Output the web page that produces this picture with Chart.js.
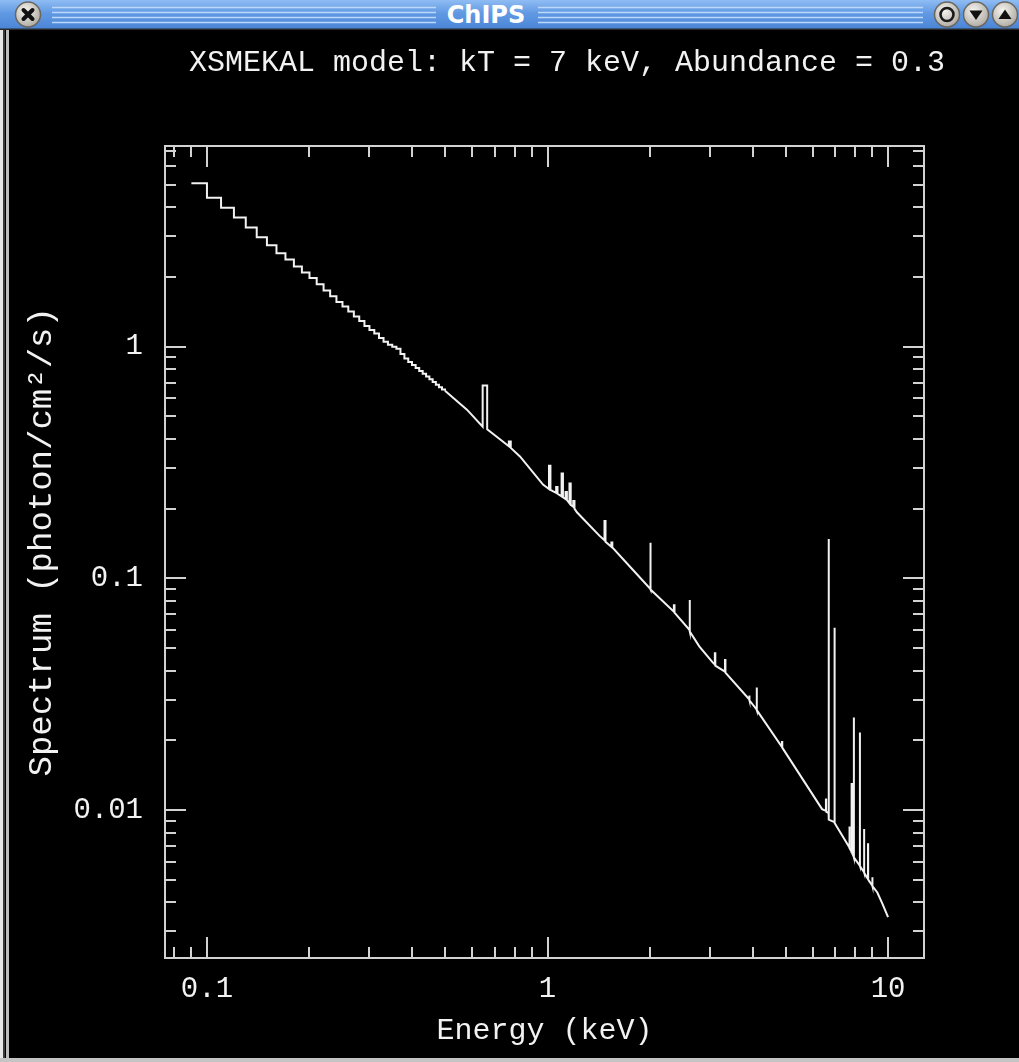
<!DOCTYPE html>
<html>
<head>
<meta charset="utf-8">
<script src="https://cdn.jsdelivr.net/npm/chart.js@4.4.1/dist/chart.umd.min.js"></script>
<style>
html,body{margin:0;padding:0;background:#000;}
#wrap{position:relative;width:1019px;height:1062px;overflow:hidden;background:#000;}
#bar{position:absolute;left:0;top:0;}
#chart{position:absolute;left:0;top:42px;}
#lb1{position:absolute;left:0;top:30px;width:3px;height:1032px;background:#e6e6e6;}
#lb2{position:absolute;left:3px;top:30px;width:2px;height:1032px;background:#3a3a3a;}
#lb3{position:absolute;left:6px;top:30px;width:3px;height:1032px;background:#bcbcbc;}
#bb{position:absolute;left:0;top:1058px;width:1019px;height:4px;background:#c4c4c4;}
</style>
</head>
<body>
<div id="wrap">
<canvas id="chart" width="1019" height="1020"></canvas>
<svg id="bar" width="1019" height="30" viewBox="0 0 1019 30">
  <defs>
    <linearGradient id="bg" x1="0" y1="0" x2="0" y2="1">
      <stop offset="0" stop-color="#8fbcf3"/>
      <stop offset="0.45" stop-color="#619ae3"/>
      <stop offset="1" stop-color="#4a84d6"/>
    </linearGradient>
    <radialGradient id="btn" cx="0.4" cy="0.35" r="0.75">
      <stop offset="0" stop-color="#f6f4f0"/>
      <stop offset="1" stop-color="#a7a39b"/>
    </radialGradient>
  </defs>
  <rect x="0" y="0" width="1019" height="29" fill="url(#bg)"/>
  <rect x="0" y="28.5" width="1019" height="1.5" fill="#2a2a2a"/>
  <g stroke="#bcd8fb" stroke-width="1.5">
    <line x1="52" y1="7.5" x2="436" y2="7.5"/>
    <line x1="52" y1="12.5" x2="436" y2="12.5"/>
    <line x1="52" y1="17.5" x2="436" y2="17.5"/>
    <line x1="52" y1="22.5" x2="436" y2="22.5"/>
    <line x1="538" y1="7.5" x2="923" y2="7.5"/>
    <line x1="538" y1="12.5" x2="923" y2="12.5"/>
    <line x1="538" y1="17.5" x2="923" y2="17.5"/>
    <line x1="538" y1="22.5" x2="923" y2="22.5"/>
  </g>
  <text x="486" y="23" font-family="DejaVu Sans" font-weight="bold" font-size="24" fill="#ffffff" text-anchor="middle">ChIPS</text>
  <circle cx="28" cy="14.5" r="12.5" fill="url(#btn)" stroke="#6a665e" stroke-width="1.5"/>
  <g stroke="#111" stroke-width="4" stroke-linecap="round">
    <line x1="23.5" y1="10" x2="32.5" y2="19"/>
    <line x1="32.5" y1="10" x2="23.5" y2="19"/>
  </g>
  <circle cx="947" cy="14.5" r="12.5" fill="url(#btn)" stroke="#6a665e" stroke-width="1.5"/>
  <circle cx="947" cy="14.5" r="6.5" fill="none" stroke="#1a1a1a" stroke-width="2.6"/>
  <circle cx="976" cy="14.5" r="12.5" fill="url(#btn)" stroke="#6a665e" stroke-width="1.5"/>
  <polygon points="969.5,10.5 982.5,10.5 976,20" fill="#111"/>
  <circle cx="1005" cy="14.5" r="12.5" fill="url(#btn)" stroke="#6a665e" stroke-width="1.5"/>
  <polygon points="998.5,19 1011.5,19 1005,9.5" fill="#111"/>
</svg>
<div id="lb1"></div><div id="lb2"></div><div id="lb3"></div><div id="bb"></div>
</div>
<script>
// ---- data ----
const titleText = 'XSMEKAL model: kT = 7 keV, Abundance = 0.3';
const xTitle = 'Energy (keV)';
const yTitle = ' Spectrum (photon/cm\u00b2/s)';

// low-energy histogram bins (lower edges, keV) and their levels
const stepEnergy = [0.09,0.10,0.11,0.12,0.13,0.14,0.15,0.16,0.17,0.18,0.19,0.20,0.21,0.22,0.23,0.24,0.25,0.26,0.27,0.28,0.29,0.30,0.31,0.32,0.33,0.34,0.35,0.36,0.37,0.38,0.39,0.40,0.41,0.42,0.43,0.44,0.45,0.46,0.47,0.48,0.49,0.50];
const stepFlux = [5.08,4.40,3.98,3.61,3.27,2.97,2.74,2.53,2.38,2.22,2.09,1.98,1.86,1.75,1.65,1.56,1.49,1.42,1.35,1.29,1.23,1.18,1.14,1.09,1.05,1.02,1.00,0.98,0.93,0.89,0.86,0.834,0.81,0.786,0.764,0.743,0.723,0.705,0.686,0.669,0.653,0.645];

// continuum + emission lines above 0.5 keV
const lineEnergy = [0.50,0.58,0.645,0.645,0.665,0.665,0.77,0.77,0.78,0.78,0.83,0.97,
  1.01,1.01,1.02,1.02,1.06,1.06,1.07,1.07,1.10,1.10,1.11,1.11,1.13,1.13,1.14,1.14,1.16,1.16,1.17,1.17,1.19,1.19,1.20,1.20,1.22,
  1.42,1.47,1.47,1.48,1.48,1.54,1.54,1.55,1.55,1.78,2.00,2.00,2.01,2.01,2.35,2.35,2.36,2.36,2.61,2.61,2.62,2.62,2.79,
  3.05,3.10,3.10,3.11,3.11,3.32,3.32,3.33,3.33,3.91,3.91,3.92,3.92,4.11,4.11,4.12,4.12,4.88,4.88,4.89,4.89,
  6.40,6.57,6.57,6.58,6.58,6.69,6.69,6.70,6.70,6.96,6.96,6.97,6.97,7.50,7.70,7.70,7.71,7.71,7.80,7.80,7.81,7.81,
  7.83,7.83,7.84,7.84,7.93,7.93,7.94,7.94,8.26,8.26,8.27,8.27,8.50,8.50,8.51,8.51,8.73,8.73,8.74,8.74,
  8.99,8.99,9.00,9.00,9.30,9.60,10.0];
const lineFlux = [0.645,0.535,0.452,0.68,0.68,0.440,0.372,0.39,0.39,0.366,0.336,0.254,
  0.243,0.306,0.306,0.241,0.234,0.248,0.248,0.232,0.226,0.284,0.284,0.224,0.220,0.236,0.236,0.218,0.211,0.257,0.257,0.208,0.204,0.216,0.216,0.200,0.193,
  0.153,0.146,0.177,0.177,0.144,0.137,0.143,0.143,0.136,0.109,0.0905,0.1426,0.1426,0.0895,0.0718,0.0765,0.0765,0.0711,0.0600,0.0806,0.0806,0.0590,0.0509,
  0.0435,0.0425,0.0475,0.0475,0.0420,0.0396,0.0444,0.0444,0.0392,0.0301,0.0312,0.0312,0.0298,0.0272,0.0338,0.0338,0.0270,0.0187,0.0197,0.0197,0.0186,
  0.0101,0.00993,0.0111,0.0111,0.00985,0.0097,0.148,0.148,0.0091,0.00887,0.0613,0.0613,0.00880,0.00736,0.00690,0.0085,0.0085,0.00685,0.00665,0.0084,0.0084,0.00660,
  0.00655,0.01295,0.01295,0.00652,0.00628,0.0251,0.0251,0.00625,0.00576,0.0216,0.0216,0.00574,0.00539,0.00828,0.00828,0.00537,0.00504,0.00713,0.00713,0.00502,
  0.00472,0.00513,0.00513,0.00470,0.00441,0.00398,0.00345];

// axis ranges and ticks
const xMin = 0.0753, xMax = 12.75, yMin = 0.0023, yMax = 7.35;
const xMajorTicks = [0.1, 1, 10];
const xTickLabels = ['0.1', '1', '10'];
const xMinorTicks = [0.08,0.09,0.2,0.3,0.4,0.5,0.6,0.7,0.8,0.9,2,3,4,5,6,7,8,9];
const yMajorTicks = [0.01, 0.1, 1];
const yTickLabels = ['0.01', '0.1', '1'];
const yMinorTicks = [0.003,0.004,0.005,0.006,0.007,0.008,0.009,0.02,0.03,0.04,0.05,0.06,0.07,0.08,0.09,0.2,0.3,0.4,0.5,0.6,0.7,0.8,0.9,2,3,4,5,6,7];

// ---- chart ----
const AX = '#d2d2d2', FG = '#f2f2f2';
const MONO = 'Liberation Mono';

function scaleOpts(position, axisName, tickVals, tickLen, size, weight, extra) {
  const horiz = position === 'top' || position === 'bottom';
  const base = {
    type: 'logarithmic', axis: axisName, position: position, weight: weight,
    min: axisName === 'x' ? xMin : yMin, max: axisName === 'x' ? xMax : yMax,
    afterBuildTicks: s => { s.ticks = tickVals.map(v => ({value: v})); },
    afterFit: s => { if (horiz) s.height = size; else s.width = size; },
    grid: {display: true, drawOnChartArea: false, drawTicks: true, tickLength: tickLen, color: AX, lineWidth: 2},
    border: {display: false},
    ticks: {display: false, autoSkip: false},
    title: {display: false}
  };
  return Object.assign(base, extra || {});
}

const stepData = stepEnergy.map((e, i) => ({x: e, y: stepFlux[i]}));
const lineData = lineEnergy.map((e, i) => ({x: e, y: lineFlux[i]}));

new Chart(document.getElementById('chart'), {
  type: 'scatter',
  data: {
    datasets: [
      {data: stepData, showLine: true, stepped: true, borderColor: FG, borderWidth: 2, pointRadius: 0, fill: false},
      {data: lineData, showLine: true, stepped: false, tension: 0, borderColor: FG, borderWidth: 2, pointRadius: 0, fill: false}
    ]
  },
  options: {
    responsive: false,
    animation: false,
    events: [],
    layout: {padding: {left: 0, right: 74, top: 0, bottom: 0}},
    plugins: {
      legend: {display: false},
      tooltip: {enabled: false},
      title: {
        display: true, text: titleText, color: FG, align: 'end',
        font: {family: MONO, size: 30, weight: 'normal', lineHeight: 1.2},
        padding: {top: 3, bottom: 65}
      }
    },
    scales: {
      x: scaleOpts('bottom', 'x', xMajorTicks, -21, 104, 1, {
        border: {display: true, color: AX, width: 2},
        ticks: {display: true, autoSkip: false, maxRotation: 0, color: FG, padding: 35,
          font: {family: MONO, size: 29, lineHeight: 1.2},
          callback: v => xTickLabels[xMajorTicks.indexOf(v)]},
        title: {display: true, text: xTitle, color: FG, font: {family: MONO, size: 30, lineHeight: 1.2}, padding: {top: 0, bottom: 13}}
      }),
      xm: scaleOpts('bottom', 'x', xMinorTicks, -11, 0, 0),
      xt: scaleOpts('top', 'x', xMajorTicks, -21, 0, 1, {border: {display: true, color: AX, width: 2}}),
      xtm: scaleOpts('top', 'x', xMinorTicks, -11, 0, 0),
      y: scaleOpts('left', 'y', yMajorTicks, -21, 165, 1, {
        border: {display: true, color: AX, width: 2},
        ticks: {display: true, autoSkip: false, color: FG, padding: 43,
          font: {family: MONO, size: 29, lineHeight: 1.2},
          callback: v => yTickLabels[yMajorTicks.indexOf(v)]},
        title: {display: true, text: yTitle, color: FG, font: {family: MONO, size: 34, lineHeight: 1.2}, padding: {top: 22, bottom: 0}}
      }),
      ym: scaleOpts('left', 'y', yMinorTicks, -11, 0, 0),
      yr: scaleOpts('right', 'y', yMajorTicks, -21, 21, 1, {border: {display: true, color: AX, width: 2}}),
      yrm: scaleOpts('right', 'y', yMinorTicks, -11, 0, 0)
    }
  },
  plugins: [{
    id: 'bgfill',
    beforeDraw(chart) {
      const c = chart.ctx;
      c.save();
      c.fillStyle = '#000';
      c.fillRect(0, 0, chart.width, chart.height);
      c.restore();
    }
  }]
});
</script>
</body>
</html>
